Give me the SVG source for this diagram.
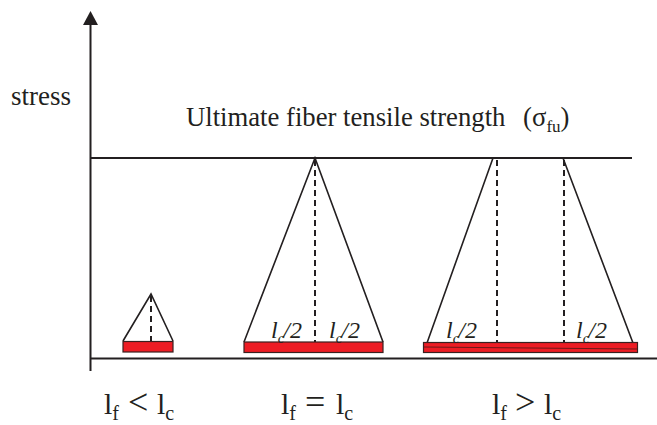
<svg xmlns="http://www.w3.org/2000/svg" width="657" height="425" viewBox="0 0 657 425">
<style>
.ax{stroke:#231f20;stroke-width:2;fill:none}
.tri{stroke:#231f20;stroke-width:1.6;fill:none;stroke-linejoin:miter}
.dash{stroke:#231f20;stroke-width:2;stroke-dasharray:6,4;fill:none}
.bar{fill:#ed1c24;stroke:#3a2020;stroke-width:1.2}
text{fill:#231f20;font-family:'Liberation Serif','Times New Roman',Times,serif}
.lab{font-style:italic;font-size:24px}
.big{font-size:30px}
.op{font-size:36px}
.sub{font-size:20px}
</style>
<rect width="657" height="425" fill="#fff"/>
<g id="axes">
<line class="ax" x1="90.5" y1="371" x2="90.5" y2="24"/>
<polygon points="90.5,11 83,25 98,25" fill="#231f20"/>
<line class="ax" x1="90" y1="358.5" x2="657" y2="358.5"/>
<line class="ax" x1="90" y1="158" x2="632" y2="158"/>
</g>
<text x="11" y="105" font-size="27">stress</text>
<text x="186" y="126" font-size="26.7">Ultimate fiber tensile strength<tspan dx="11"> (σ</tspan><tspan font-size="17" dy="6">fu</tspan><tspan dy="-6">)</tspan></text>
<g id="fiber-short">
<polyline class="tri" points="123,341 151,294 173,341"/>
<line class="dash" x1="151" y1="296" x2="151" y2="341"/>
<rect class="bar" x="123" y="341.5" width="50" height="10.5"/>
</g>
<g id="fiber-critical">
<polyline class="tri" points="244,342 315,158 383,342"/>
<line class="dash" x1="315" y1="160" x2="315" y2="342"/>
<rect class="bar" x="244" y="342" width="139" height="10.5"/>
<text class="lab" x="271" y="338">l<tspan font-size="15" dy="5">c</tspan><tspan dy="-5" dx="-1">/2</tspan></text>
<text class="lab" x="329" y="338">l<tspan font-size="15" dy="5">c</tspan><tspan dy="-5" dx="-1">/2</tspan></text>
</g>
<g id="fiber-long">
<polyline class="tri" points="427,343 493,158 563,158 633,343"/>
<line class="dash" x1="497" y1="160" x2="497" y2="343"/>
<line class="dash" x1="564" y1="160" x2="564" y2="343"/>
<rect class="bar" x="423.5" y="342.5" width="214" height="10" stroke="#4a2020" stroke-width="1.5"/>
<line x1="424" y1="347" x2="637" y2="349" stroke="#6a1a1a" stroke-width="1"/>
<text class="lab" x="446" y="338">l<tspan font-size="15" dy="5">c</tspan><tspan dy="-5" dx="-1">/2</tspan></text>
<text class="lab" x="576" y="338">l<tspan font-size="15" dy="5">c</tspan><tspan dy="-5" dx="-1">/2</tspan></text>
</g>
<text class="big" x="104" y="414">l<tspan class="sub" dy="6">f</tspan><tspan class="op" x="128" dy="-6">&lt;</tspan><tspan x="157">l</tspan><tspan class="sub" dy="6">c</tspan></text>
<text class="big" x="281" y="414">l<tspan class="sub" dy="6">f</tspan><tspan class="op" x="305" dy="-6">=</tspan><tspan x="336">l</tspan><tspan class="sub" dy="6">c</tspan></text>
<text class="big" x="492" y="414">l<tspan class="sub" dy="6">f</tspan><tspan class="op" x="515" dy="-6">&gt;</tspan><tspan x="544">l</tspan><tspan class="sub" dy="6">c</tspan></text>
</svg>
